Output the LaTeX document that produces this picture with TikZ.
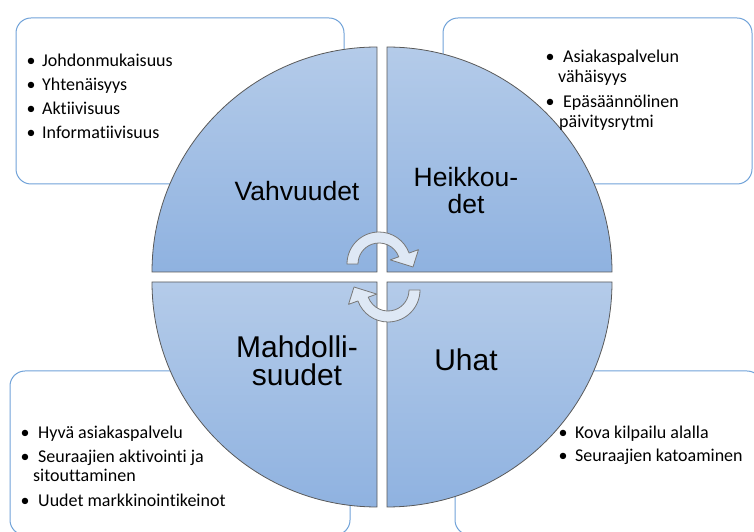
\documentclass[tikz,border=0pt]{standalone}
\usepackage{fontspec}
\setmainfont{Carlito}[Ligatures={NoCommon,NoContextual}]
\newfontfamily\quadfont{Liberation Sans}
\definecolor{boxline}{RGB}{112,162,216}
\definecolor{quadtop}{RGB}{180,203,233}
\definecolor{quadbot}{RGB}{143,178,224}
\definecolor{quadline}{RGB}{89,89,89}
\definecolor{turnfill}{RGB}{222,232,245}
\definecolor{turnline}{RGB}{120,120,120}

\begin{document}
\begin{tikzpicture}[x=1pt,y=1pt,
    frame/.style={draw=boxline,line width=1pt,rounded corners=15pt},
    quad/.style={draw=quadline,line width=0.8pt,top color=quadtop,bottom color=quadbot},
    quadlabel/.style={font=\quadfont\fontsize{26.5}{27}\selectfont,align=center,inner sep=0pt},
    biglabel/.style={quadlabel,font=\quadfont\fontsize{30}{28.5}\selectfont},
    bullet/.style={anchor=base,font=\fontsize{18}{20}\selectfont,inner sep=0pt},
    item/.style={anchor=base west,font=\fontsize{18}{20}\selectfont,inner sep=0pt},
    turn/.style={draw=turnline,line width=0.8pt,fill=turnfill,line join=round}]
        % mittakaava: 1 px = 1 pt, kuva 754 x 532
        \useasboundingbox (0,0) rectangle (754,532);
        \draw[frame] (16,348)  rectangle (344,514);
        \draw[frame] (443,348) rectangle (752,514);
        \draw[frame] (10,-3)   rectangle (350,161);
        \draw[frame] (455,-3)  rectangle (762,161);
        \path[quad] (377,260) -- (152,260) arc[start angle=180,end angle=90,radius=225] -- cycle;
        \path[quad] (387,260) -- (387,485) arc[start angle=90,end angle=0,radius=225] -- cycle;
        \path[quad] (377,250) -- (377,25) arc[start angle=270,end angle=180,radius=225] -- cycle;
        \path[quad] (387,250) -- (612,250) arc[start angle=0,end angle=-90,radius=225] -- cycle;
        \node[quadlabel] (vahvuudet) at (297,340.6) {Vahvuudet};
        \node[quadlabel] (heikkoudet) at (466,341.5) {Heikkou-\\det};
        \node[biglabel] (mahdollisuudet) at (297,171) {Mahdolli-\\suudet};
        \node[biglabel] (uhat) at (466,172.7) {Uhat};
        \begin{scope}[shift={(379,268)}]
            \path[turn] (180:32) arc[start angle=180,end angle=20,radius=32] -- (20:42) -- (34,-3)
                -- (20:12) -- (20:21) arc[start angle=20,end angle=180,radius=21] -- cycle;
        \end{scope}
        \begin{scope}[shift={(388,242)},rotate=180]
            \path[turn] (180:32) arc[start angle=180,end angle=20,radius=32] -- (20:42) -- (34,-3)
                -- (20:12) -- (20:21) arc[start angle=20,end angle=180,radius=21] -- cycle;
        \end{scope}
        \foreach \t/\y [count=\i] in {Johdonmukaisuus/465,Yhtenäisyys/441,Aktiivisuus/417,Informatiivisuus/393}{
            \node[bullet] (vb\i) at (31,\y) {•}; \node[item] (v\i) at (42,\y) {\t};
        }
        \node[bullet] (hb1) at (550,469) {•}; \node[item] (h1) at (563,469) {Asiakaspalvelun};
        \node[item] (h1b) at (558,449) {vähäisyys};
        \node[bullet] (hb2) at (550,424) {•}; \node[item] (h2) at (563,424) {Epäsäännölinen};
        \node[item] (h2b) at (559,404) {päivitysrytmi};
        \node[bullet] (mb1) at (25,93) {•}; \node[item] (m1) at (38,93) {Hyvä asiakaspalvelu};
        \node[bullet] (mb2) at (25,69) {•}; \node[item] (m2) at (38,69) {Seuraajien aktivointi ja};
        \node[item] (m2b) at (33,50) {sitouttaminen};
        \node[bullet] (mb3) at (25,25) {•}; \node[item] (m3) at (38,25) {Uudet markkinointikeinot};
        \foreach \t/\y [count=\i] in {Kova kilpailu alalla/93,Seuraajien katoaminen/70}{
            \node[bullet] (ub\i) at (563,\y) {•}; \node[item] (u\i) at (575,\y) {\t};
        }
\end{tikzpicture}
\end{document}
